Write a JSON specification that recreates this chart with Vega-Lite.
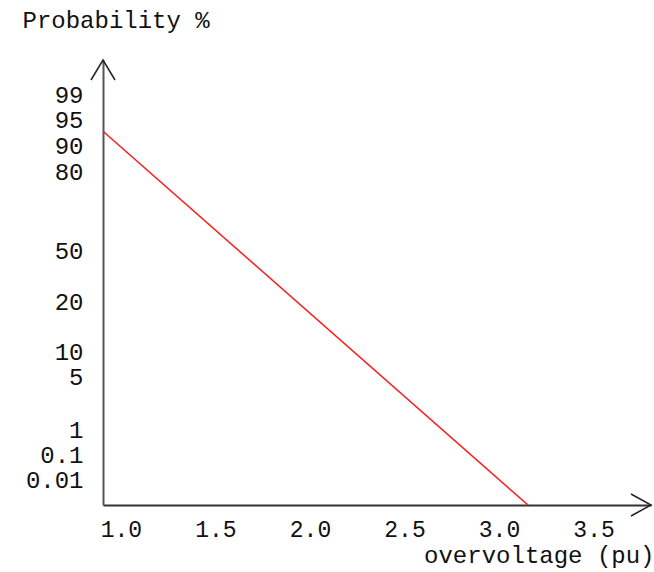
{
  "$schema": "https://vega.github.io/schema/vega-lite/v6.json",
  "width": 548,
  "height": 445,
  "autosize": "none",
  "padding": {"left": 103, "top": 60, "right": 3, "bottom": 67},
  "background": "white",
  "config": {"view": {"stroke": null}, "font": "Liberation Mono"},
  "layer": [
    {
      "data": {"values": [
        {"overvoltage": 0.905, "probability_pos": 14.95},
        {"overvoltage": 3.153, "probability_pos": 0}
      ]},
      "mark": {"type": "line", "color": "#ff1a1a", "strokeWidth": 1.5, "clip": false},
      "encoding": {
        "x": {
          "field": "overvoltage", "type": "quantitative",
          "scale": {"domain": [0.905, 3.804], "nice": false, "zero": false},
          "axis": {
            "title": "overvoltage (pu)", "values": [1, 1.5, 2, 2.5, 3, 3.5], "format": ".1f",
            "grid": false, "ticks": false, "tickSize": 0, "domainColor": "#333", "domainWidth": 2,
            "labelFont": "Liberation Mono", "labelFontSize": 23, "labelColor": "#111",
            "labelBaseline": "middle", "labelPadding": 24, "labelOverlap": false, "labelFlush": false,
            "titleFont": "Liberation Mono", "titleFontSize": 24, "titleFontWeight": "normal", "titleColor": "#111",
            "titleAlign": "right", "titleAnchor": null, "titleX": 551, "titleY": 50, "titleBaseline": "middle"
          }
        },
        "y": {
          "field": "probability_pos", "type": "quantitative",
          "scale": {"domain": [0, 17.8], "nice": false, "zero": false},
          "axis": {
            "title": "Probability %",
            "values": [1, 2, 3, 5.1, 6.1, 8.1, 10.15, 13.3, 14.35, 15.4, 16.4],
            "labelExpr": "['0.01','0.1','1','5','10','20','50','80','90','95','99'][indexof([1,2,3,5.1,6.1,8.1,10.15,13.3,14.35,15.4,16.4], datum.value)]",
            "grid": false, "ticks": false, "tickSize": 0, "domainColor": "#555", "domainWidth": 2,
            "labelFont": "Liberation Mono", "labelFontSize": 24, "labelColor": "#111",
            "labelBaseline": "middle", "labelPadding": 20, "labelOverlap": false, "labelFlush": false,
            "titleFont": "Liberation Mono", "titleFontSize": 24, "titleFontWeight": "normal", "titleColor": "#111",
            "titleAngle": 0, "titleAlign": "left", "titleAnchor": null, "titleX": -81, "titleY": -40, "titleBaseline": "middle"
          }
        }
      }
    },
    {
      "data": {"values": [
        {"overvoltage": 0.905, "probability_pos": 17.8, "dir": "up"},
        {"overvoltage": 3.804, "probability_pos": 0, "dir": "right"}
      ]},
      "mark": {"type": "point", "filled": false, "color": "#222", "stroke": "#222", "strokeWidth": 1.5, "size": 1600, "opacity": 1, "clip": false},
      "encoding": {
        "x": {"field": "overvoltage", "type": "quantitative"},
        "y": {"field": "probability_pos", "type": "quantitative"},
        "shape": {
          "field": "dir", "type": "nominal",
          "scale": {"domain": ["up", "right"], "range": ["M-0.6,1L0,0L0.6,1", "M-1,-0.55L0,0L-1,0.55"]},
          "legend": null
        }
      }
    }
  ]
}
